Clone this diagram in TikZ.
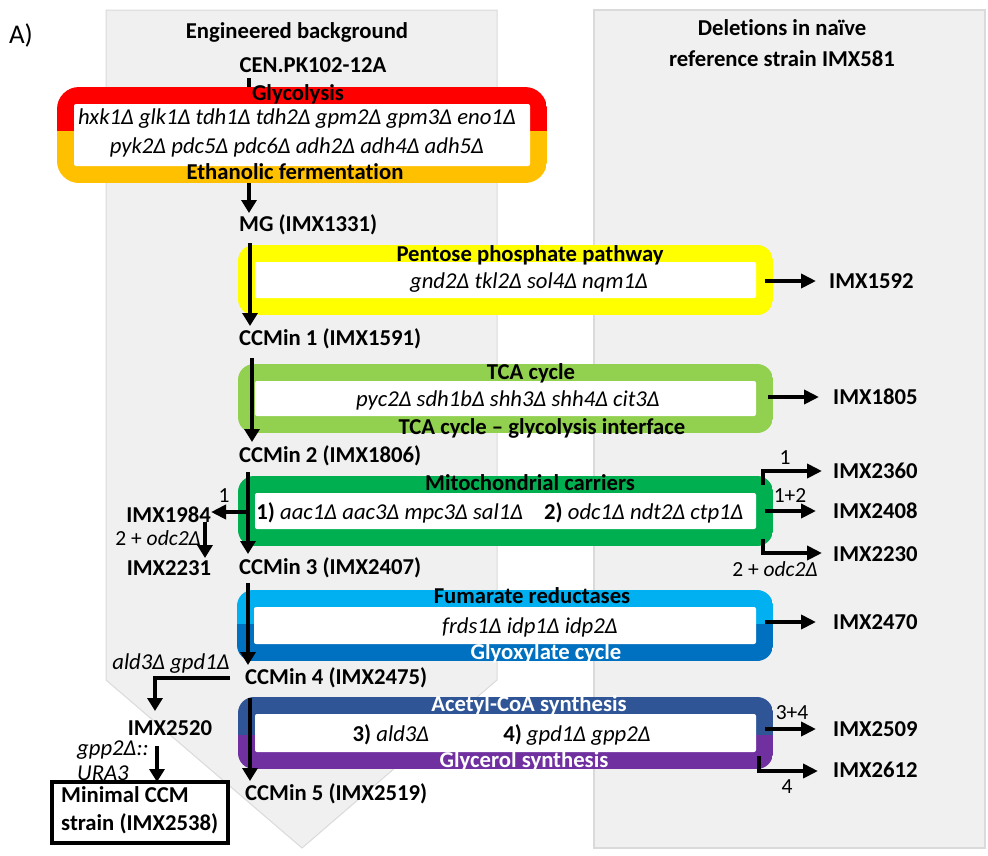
\documentclass[tikz,border=0pt]{standalone}
\usepackage{fontspec}
\setmainfont{Carlito}[Ligatures=NoCommon]
\usetikzlibrary{arrows.meta}
\definecolor{panel}{HTML}{F0F0F0}
\definecolor{panelline}{HTML}{DADADA}
\definecolor{cRed}{HTML}{FF0000}
\definecolor{cOrange}{HTML}{FFC000}
\definecolor{cYellow}{HTML}{FFFF00}
\definecolor{cLGreen}{HTML}{92D050}
\definecolor{cGreen}{HTML}{00B050}
\definecolor{cLBlue}{HTML}{00B0F0}
\definecolor{cBlue}{HTML}{0070C0}
\definecolor{cDBlue}{HTML}{2F5597}
\definecolor{cPurple}{HTML}{7030A0}
\newcommand{\twobox}[9]{%
  % #1 x1, #2 y1, #3 x2, #4 y2, #5 ysplit, #6 top colour, #7 bottom colour, #8 radius, #9 inset
  \begin{scope}
    \clip[rounded corners=#8] (#1,#2) rectangle (#3,#4);
    \fill[#6] (#1,#2) rectangle (#3,#5);
    \fill[#7] (#1,#5) rectangle (#3,#4);
  \end{scope}
  \fill[white, rounded corners=2] (#1+#9,#2+#9) rectangle (#3-#9,#4-#9);
}
\begin{document}
\begin{tikzpicture}[x=1pt,y=-1pt,
  every node/.style={inner sep=0pt, anchor=base, font=\fontsize{22.7}{27}\selectfont},
  lab/.style={font=\fontsize{22.7}{27}\selectfont\bfseries},
  gene/.style={font=\fontsize{22.7}{27}\selectfont\itshape},
  num/.style={font=\fontsize{21.5}{25}\selectfont},
  wlab/.style={lab, text=white},
  arr/.style={line width=4pt, line join=miter, -{Triangle[length=13pt,width=15pt]}},
  harr/.style={line width=4pt, line join=miter, -{Triangle[length=15pt,width=14pt]}}]
\useasboundingbox (0,0) rectangle (988,855);

% background panels
\fill[panel, draw=panelline, line width=1pt] (106,10) -- (497,10) -- (497,680) -- (302,848) -- (106,680) -- cycle;
\fill[panel, draw=panelline, line width=1.5pt] (594,10) rectangle (985,848);

% headings
\node[font=\fontsize{27}{30}\selectfont] (A) at (21,43) {A)};
\node[lab] (hl) at (297,38) {Engineered background};
\node[lab] (hr1) at (782,35) {Deletions in naïve};
\node[lab] (hr2) at (782,66) {reference strain IMX581};

% strains (engineered background)
\node[lab] (cen) at (313,72) {CEN.PK102-12A};
\node[lab, anchor=base west] (mg) at (239,231) {MG (IMX1331)};
\node[lab, anchor=base west] (ccm1) at (239,345) {CCMin 1 (IMX1591)};
\node[lab, anchor=base west] (ccm2) at (239,462) {CCMin 2 (IMX1806)};
\node[lab, anchor=base west] (ccm3) at (239,574) {CCMin 3 (IMX2407)};
\node[lab, anchor=base west] (ccm4) at (245,684) {CCMin 4 (IMX2475)};
\node[lab, anchor=base west] (ccm5) at (245,800) {CCMin 5 (IMX2519)};

% arrow from CEN.PK (under the glycolysis box)
\coordinate (a0s) at (249,78); \coordinate (a0e) at (249,213);
\draw[arr] (a0s) -- (a0e);

% Glycolysis / ethanolic fermentation box
\twobox{57}{87}{547}{183}{131}{cRed}{cOrange}{22}{17}
\node[lab] (glyc) at (298,100) {Glycolysis};
\node[gene] (g1) at (297,124) {hxk1Δ glk1Δ tdh1Δ tdh2Δ gpm2Δ gpm3Δ eno1Δ};
\node[gene] (g2) at (297,153) {pyk2Δ pdc5Δ pdc6Δ adh2Δ adh4Δ adh5Δ};
\node[lab] (eth) at (295,179) {Ethanolic fermentation};

% Pentose phosphate pathway
\twobox{238}{245}{773}{315}{280}{cYellow}{cYellow}{16}{17}
\node[lab] (ppp) at (530,261) {Pentose phosphate pathway};
\node[gene] (pppg) at (529,288) {gnd2Δ tkl2Δ sol4Δ nqm1Δ};

% TCA cycle
\twobox{238}{364}{773}{433}{400}{cLGreen}{cLGreen}{16}{17}
\node[lab] (tca) at (531,379) {TCA cycle};
\node[gene] (tcag) at (508,406) {pyc2Δ sdh1bΔ shh3Δ shh4Δ cit3Δ};
\node[lab] (tcai) at (542,434) {TCA cycle – glycolysis interface};

% Mitochondrial carriers
\twobox{238}{476}{773}{546}{510}{cGreen}{cGreen}{16}{17}
\node[lab] (mito) at (530,490) {Mitochondrial carriers};
\node (mitog) at (500,519) {\textbf{1)} \textit{aac1Δ aac3Δ mpc3Δ sal1Δ}\hspace{0.7em} \textbf{2)} \textit{odc1Δ ndt2Δ ctp1Δ}};

% Fumarate reductases / glyoxylate cycle
\twobox{237}{590}{773}{661}{624}{cLBlue}{cBlue}{16}{17}
\node[lab] (fum) at (532,603) {Fumarate reductases};
\node[gene] (fumg) at (530,633) {frds1Δ idp1Δ idp2Δ};
\node[wlab] (glx) at (546,659) {Glyoxylate cycle};

% Acetyl-CoA / glycerol synthesis
\twobox{238}{697}{773}{769}{735}{cDBlue}{cPurple}{16}{17}
\node[wlab] (acc) at (529,711) {Acetyl-CoA synthesis};
\node (accg3) at (391,741) {\textbf{3)} \textit{ald3Δ}};
\node (accg4) at (577,741) {\textbf{4)} \textit{gpd1Δ gpp2Δ}};
\node[wlab] (gly) at (524,767) {Glycerol synthesis};

% main vertical arrows (drawn over the boxes)
\coordinate (a1s) at (250,243); \coordinate (a1e) at (250,326);
\coordinate (a2s) at (252,358); \coordinate (a2e) at (252,442);
\coordinate (a3s) at (248,472); \coordinate (a3e) at (248,554);
\coordinate (a4s) at (248,583); \coordinate (a4e) at (248,665);
\coordinate (a5s) at (250,698); \coordinate (a5e) at (250,781);
\draw[arr] (a1s) -- (a1e);
\draw[arr] (a2s) -- (a2e);
\draw[arr] (a3s) -- (a3e);
\draw[arr] (a4s) -- (a4e);
\draw[arr] (a5s) -- (a5e);

% right column strains
\node[lab, anchor=base west] (r1592) at (829,288) {IMX1592};
\node[lab, anchor=base west] (r1805) at (833,404) {IMX1805};
\node[lab, anchor=base west] (r2360) at (833,478) {IMX2360};
\node[lab, anchor=base west] (r2408) at (833,518) {IMX2408};
\node[lab, anchor=base west] (r2230) at (833,561) {IMX2230};
\node[lab, anchor=base west] (r2470) at (833,629) {IMX2470};
\node[lab, anchor=base west] (r2509) at (833,736) {IMX2509};
\node[lab, anchor=base west] (r2612) at (833,777) {IMX2612};

\coordinate (b1) at (765,281); \coordinate (b1e) at (816,281);
\coordinate (b2) at (768,397); \coordinate (b2e) at (819,397);
\coordinate (b3) at (765,511); \coordinate (b3e) at (816,511);
\coordinate (b4) at (765,622); \coordinate (b4e) at (816,622);
\coordinate (b5) at (765,729); \coordinate (b5e) at (816,729);
\draw[harr] (b1) -- (b1e);
\draw[harr] (b2) -- (b2e);
\draw[harr] (b3) -- (b3e);
\draw[harr] (b4) -- (b4e);
\draw[harr] (b5) -- (b5e);

\coordinate (e1) at (763,485); \coordinate (e1e) at (822,471);
\coordinate (e2) at (763,539); \coordinate (e2e) at (822,553);
\coordinate (e3) at (759,756); \coordinate (e3e) at (818,771);
\draw[harr] (e1) |- (e1e);
\draw[harr] (e2) |- (e2e);
\draw[harr] (e3) |- (e3e);

\node[num] (n1) at (785,464) {1};
\node[num] (n12) at (790,502) {1+2};
\node[num] (n2o) at (775,576) {2 + \textit{odc2Δ}};
\node[num] (n34) at (792,719) {3+4};
\node[num] (n4) at (787,793) {4};

% left side branches
\node[lab, anchor=base east] (l1984) at (211,522) {IMX1984};
\node[num] (ln1) at (224,502) {1};
\coordinate (f1) at (248,512); \coordinate (f1e) at (211,512);
\draw[harr] (f1) -- (f1e);
\node[num, anchor=base east] (ln2) at (201,545) {2 + \textit{odc2Δ}};
\coordinate (f2) at (205,522); \coordinate (f2e) at (205,558);
\draw[arr] (f2) -- (f2e);
\node[lab] (l2231) at (169,575) {IMX2231};

\node[gene] (ald) at (171,669) {ald3Δ gpd1Δ};
\coordinate (h1) at (230,678); \coordinate (h1e) at (155,711);
\draw[arr] (h1) -| (h1e);
\node[lab] (l2520) at (170,735) {IMX2520};
\node[gene, anchor=base west] (gpp) at (77,755) {gpp2Δ::};
\node[gene, anchor=base west] (ura) at (77,780) {URA3};
\fill[white, draw=black, line width=4pt] (52,782) rectangle (228,843);
\coordinate (h2) at (157,746); \coordinate (h2e) at (157,782);
\draw[arr] (h2) -- (h2e);
\node[lab, anchor=base west] (min1) at (61,802) {Minimal CCM};
\node[lab, anchor=base west] (min2) at (61,830) {strain (IMX2538)};
\end{tikzpicture}
\end{document}
